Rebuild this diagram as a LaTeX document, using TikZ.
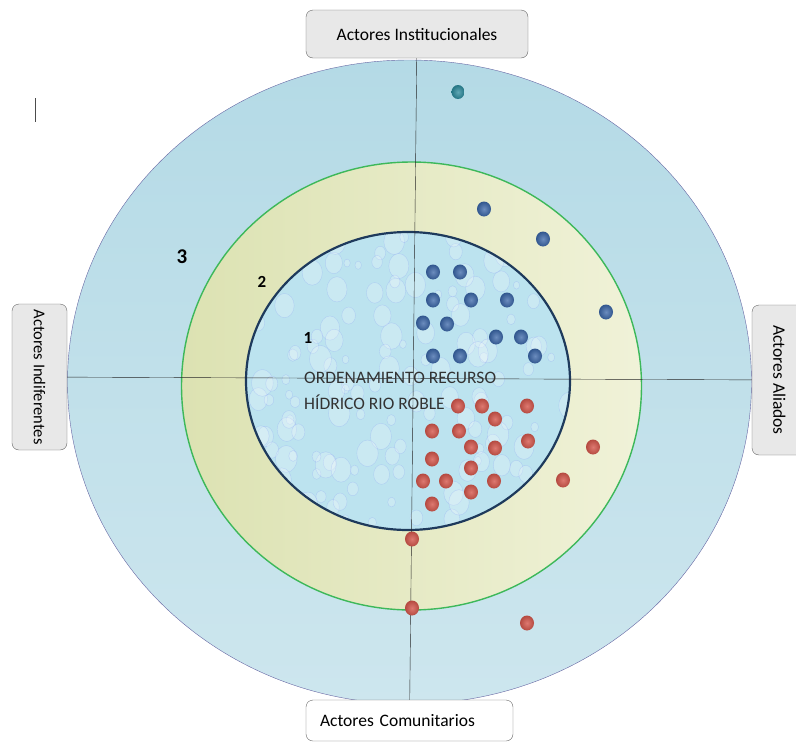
\documentclass[tikz,border=0pt]{standalone}
\usepackage{fontspec}
\setmainfont{Carlito}

\definecolor{outerA}{HTML}{B4DAE6}
\definecolor{outerB}{HTML}{CDE6EE}
\definecolor{midA}{HTML}{DCE2B2}
\definecolor{midB}{HTML}{F0F2D8}
\definecolor{water}{HTML}{BCE3EF}
\definecolor{navy}{HTML}{1E3A5C}
\definecolor{ringgreen}{HTML}{3DB85A}
\definecolor{dotblue}{HTML}{3A66A8}
\definecolor{dotred}{HTML}{D5574C}
\definecolor{dotteal}{HTML}{2B8A9C}

\begin{document}
\begin{tikzpicture}[x=1pt,y=-1pt,
    actorbox/.style={draw=black!60, rounded corners=7pt, fill=black!9,
      font=\fontsize{17.5}{20}\selectfont, inner sep=0pt},
    ringlabel/.style={font=\bfseries\fontsize{17}{19}\selectfont},
    bluedot/.style={inner color=dotblue!75!white, outer color=dotblue!85!black},
    reddot/.style={inner color=dotred!80!white, outer color=dotred!85!black}]
  \useasboundingbox (0,0) rectangle (796,742);

  % the three rings
  \draw[draw=black!60!blue!60, top color=outerA, bottom color=outerB]
    (409.5,382) ellipse [x radius=342, y radius=322];
  \draw[draw=ringgreen, line width=1.4pt, left color=midA, right color=midB]
    (411.5,386) ellipse [x radius=230, y radius=224];
  \fill[water] (408,381) ellipse [x radius=162, y radius=149];

  % drops inside the core
  \begin{scope}
    \clip (408,381) ellipse [x radius=162, y radius=149];
    \pgfmathsetseed{7}
    \foreach \k in {1,...,160}{
      \pgfmathsetmacro\px{246+324*rnd}
      \pgfmathsetmacro\py{232+298*rnd}
      \pgfmathsetmacro\sz{3+8*rnd}
      \filldraw[fill=white, fill opacity=0.22, draw=water!60!blue, draw opacity=0.25]
        (\px,\py) ellipse [x radius=\sz, y radius=1.25*\sz];
    }
  \end{scope}
  \draw[navy, line width=2.2pt] (408,381) ellipse [x radius=162, y radius=149];

  % actors
  \node[actorbox, minimum width=222pt, minimum height=48pt] (inst) at (417,34)
    {Actores Institucionales};
  \node[actorbox, fill=white, minimum width=207pt, minimum height=41pt,
    text width=179pt, inner xsep=14pt, align=left] (com) at (409.5,720.5)
    {Actores Comunitarios};
  \node[actorbox, rotate=-90, minimum width=146pt, minimum height=55pt,
    font=\fontsize{16.5}{19}\selectfont] (indif) at (39.5,377) {Actores Indiferentes};
  \node[actorbox, rotate=-90, minimum width=150pt, minimum height=55pt] (aliad)
    at (779.5,380) {Actores Aliados};

  \draw[black!85] (inst) -- (com);
  \draw[black!85] (indif) -- (aliad);

  \draw[black!70] (35,98) -- (35,122);

  \node[ringlabel, font=\bfseries\fontsize{21}{23}\selectfont] (r3) at (182,257) {3};
  \node[ringlabel] (r2) at (262,282) {2};
  \node[ringlabel] (r1) at (308,338) {1};

  \node[align=left, anchor=north west, text=black!80,
    font=\fontsize{17.5}{26}\selectfont, inner sep=0pt] (title) at (304,372)
    {ORDENAMIENTO RECURSO\\HÍDRICO RIO ROBLE};

  % actors as dots
  \shade[inner color=dotteal!75!white, outer color=dotteal!85!black]
    (458,92) ellipse [x radius=6.5, y radius=7];
  \foreach \dx/\dy in {484/209, 543/239, 606/312, 433/272, 460/272, 433/300,
      471/300, 507/300, 423/323, 447/324, 496/337, 521/337, 433/356, 460/356, 535/356}
    \shade[bluedot] (\dx,\dy) ellipse [x radius=7, y radius=7.5];
  \foreach \dx/\dy in {458/406, 482/406, 527/406, 495/419, 432/431, 459/431,
      471/447, 495/448, 528/441, 593/447, 432/459, 471/468, 423/481, 446/481,
      494/481, 563/480, 471/492, 432/504, 412/539, 412/608, 527/623}
    \shade[reddot] (\dx,\dy) ellipse [x radius=7, y radius=7.5];
\end{tikzpicture}
\end{document}
